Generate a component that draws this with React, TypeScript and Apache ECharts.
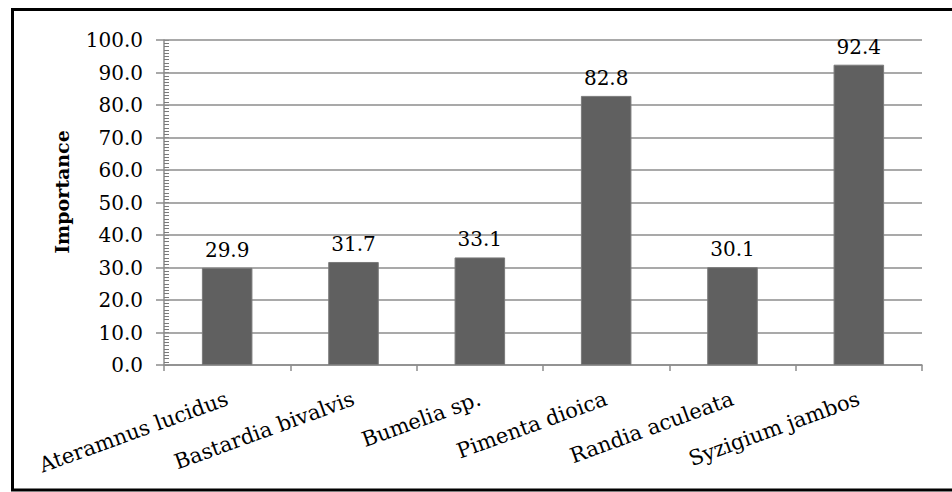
import React, { useEffect, useRef } from "react";
import * as echarts from "echarts";

const categories = [
  "Ateramnus lucidus",
  "Bastardia bivalvis",
  "Bumelia sp.",
  "Pimenta dioica",
  "Randia aculeata",
  "Syzigium jambos",
];
const importance = [29.9, 31.7, 33.1, 82.8, 30.1, 92.4];
const yAxisName = "Importance";

const FONT = "Georgia, 'DejaVu Serif', serif";

export default function App() {
  const ref = useRef<HTMLDivElement>(null);
  useEffect(() => {
    if (!ref.current) return;
    const chart = echarts.init(ref.current, undefined, { renderer: "svg" });
    chart.setOption({
      animation: false,
      backgroundColor: "#ffffff",
      grid: { left: 164, right: 30, top: 40, bottom: 127, containLabel: false },
      graphic: [
        {
          type: "polyline",
          shape: { points: [[1000, 9.5], [12.5, 9.5], [12.5, 490], [1000, 490]] },
          style: { fill: "none", stroke: "#000000", lineWidth: 3 },
          z: 100,
          silent: true,
        },
        {
          type: "text",
          x: 62,
          y: 192,
          rotation: Math.PI / 2,
          style: {
            text: yAxisName,
            fill: "#000000",
            font: "bold 19px " + FONT,
            textAlign: "center",
            textVerticalAlign: "middle",
          },
        },
      ],
      xAxis: {
        type: "category",
        data: categories,
        axisLine: { show: true, lineStyle: { color: "#8c8c8c", width: 1.5 } },
        axisTick: { show: true, length: 6, alignWithLabel: false, lineStyle: { color: "#8c8c8c", width: 1.5 } },
        axisLabel: {
          rotate: 20,
          interval: 0,
          margin: 33,
          color: "#000000",
          fontFamily: FONT,
          fontSize: 21,
        },
        splitLine: { show: false },
      },
      yAxis: [
        {
          type: "value",
          min: 0,
          max: 100,
          interval: 10,
          axisLine: { show: true, lineStyle: { color: "#8c8c8c", width: 1.5 } },
          axisTick: { show: true, inside: true, length: 5, lineStyle: { color: "#8c8c8c", width: 1 } },
          minorTick: { show: true, splitNumber: 10, length: 5, lineStyle: { color: "#7a7a7a", width: 1 } },
          axisLabel: {
            formatter: (v: number) => v.toFixed(1),
            color: "#000000",
            fontFamily: FONT,
            fontSize: 20,
            margin: 21,
          },
          splitLine: { show: true, lineStyle: { color: "#8c8c8c", width: 1.5 } },
          minorSplitLine: { show: false },
        },
        {
          type: "value",
          min: 0,
          max: 100,
          interval: 10,
          position: "left",
          offset: 0,
          axisLine: { show: false },
          axisTick: { show: true, inside: false, length: 8, lineStyle: { color: "#8c8c8c", width: 1.5 } },
          axisLabel: { show: false },
          splitLine: { show: false },
        },
      ],
      series: [
        {
          type: "bar",
          data: importance,
          barCategoryGap: "60%",
          itemStyle: { color: "#606060", borderColor: "#7a7a7a", borderWidth: 1 },
          label: {
            show: true,
            position: "top",
            distance: 8,
            formatter: (p: any) => Number(p.value).toFixed(1),
            color: "#000000",
            fontFamily: FONT,
            fontSize: 20,
          },
        },
      ],
    });
    return () => chart.dispose();
  }, []);
  return (
    <div
      ref={ref}
      style={{ position: "absolute", left: 0, top: 0, width: 952, height: 492 }}
    />
  );
}
